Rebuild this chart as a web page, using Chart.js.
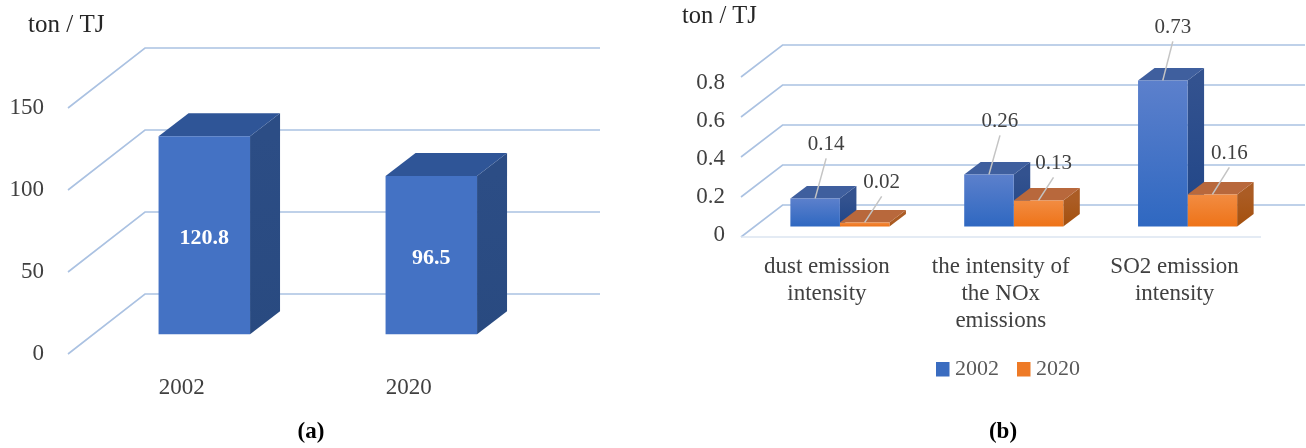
<!DOCTYPE html>
<html>
<head>
<meta charset="utf-8">
<script src="https://cdn.jsdelivr.net/npm/chart.js@4/dist/chart.umd.js"></script>
<style>
  html, body { margin: 0; padding: 0; background: #fff; overflow: hidden; }
  body { width: 1306px; height: 448px; position: relative; }
  .panel { position: absolute; top: 0; height: 448px; }
  canvas { filter: blur(0.4px); }
</style>
</head>
<body>
<div class="panel" style="left:0;width:640px"><canvas id="chartA"></canvas></div>
<div class="panel" style="left:650px;width:656px"><canvas id="chartB"></canvas></div>
<script>
// Data
const yearsA = ['2002', '2020'];
const intensityA = [120.8, 96.5];
const ticksA = [0, 50, 100, 150];

const categoriesB = [
  ['dust emission', 'intensity'],
  ['the intensity of', 'the NOx', 'emissions'],
  ['SO2 emission', 'intensity']
];
const values2002 = [0.14, 0.26, 0.73];
const values2020 = [0.02, 0.13, 0.16];
const ticksB = [0, 0.2, 0.4, 0.6, 0.8];

const SERIF = '"Liberation Serif", serif';
const GRID = '#abc2e2';
Chart.defaults.font.family = SERIF;
Chart.defaults.animation = false;

function polygon(ctx, pts, fill) {
  ctx.fillStyle = fill;
  ctx.beginPath();
  pts.forEach((p, i) => i ? ctx.lineTo(p[0], p[1]) : ctx.moveTo(p[0], p[1]));
  ctx.closePath();
  ctx.fill();
}

// Back wall + side wall lines, one per tick value of the wall axis
function drawWalls(chart, wall, values) {
  const ctx = chart.ctx;
  const y = chart.scales.yWall;
  ctx.save();
  ctx.strokeStyle = GRID;
  ctx.lineWidth = 1.6;
  values.forEach(v => {
    const py = y.getPixelForValue(v);
    ctx.beginPath();
    ctx.moveTo(wall.left, py);
    ctx.lineTo(wall.left + wall.dx, py - wall.dy);
    ctx.lineTo(wall.right, py - wall.dy);
    ctx.stroke();
  });
  if (wall.floorRight) {
    const py = y.getPixelForValue(0);
    ctx.strokeStyle = '#dbe4f1';
    ctx.beginPath();
    ctx.moveTo(wall.left, py);
    ctx.lineTo(wall.floorRight, py);
    ctx.stroke();
  }
  ctx.restore();
}

// Top and side faces of the bars; the front face is the bar Chart.js draws
function drawBarFaces(chart, depth, faces) {
  const ctx = chart.ctx;
  const metas = chart.getSortedVisibleDatasetMetas();
  const count = metas[0].data.length;
  for (let i = 0; i < count; i++) {
    metas.forEach((meta, d) => {
      const bar = meta.data[i];
      const l = bar.x - bar.width / 2, r = bar.x + bar.width / 2;
      const f = faces[d];
      const side = ctx.createLinearGradient(0, bar.y, 0, bar.base);
      side.addColorStop(0, f.sideTop);
      side.addColorStop(1, f.sideBottom);
      polygon(ctx, [[r, bar.y], [r + depth.dx, bar.y - depth.dy], [r + depth.dx, bar.base - depth.dy], [r, bar.base]], side);
      polygon(ctx, [[l, bar.y], [l + depth.dx, bar.y - depth.dy], [r + depth.dx, bar.y - depth.dy], [r, bar.y]], f.top);
    });
  }
}

function text(ctx, str, x, y, font, color, align) {
  ctx.font = font;
  ctx.fillStyle = color;
  ctx.textAlign = align || 'center';
  ctx.textBaseline = 'middle';
  ctx.fillText(str, x, y);
}

// ---- panel (a) ----
const wallA = { left: 68, right: 600, dx: 77, dy: 60 };
const depthA = { dx: 30, dy: 23 };
const facesA = [{ top: '#2f5597', sideTop: '#2c4d85', sideBottom: '#294a80' }];

new Chart(document.getElementById('chartA'), {
  type: 'bar',
  data: {
    labels: yearsA,
    datasets: [{ label: 'ton / TJ', data: intensityA, backgroundColor: '#4472c4', yAxisID: 'yBars',
      categoryPercentage: 0.403, barPercentage: 1 }]
  },
  options: {
    responsive: true,
    maintainAspectRatio: false,
    layout: { padding: { top: 108, bottom: 34, right: 95.2 } },
    plugins: { legend: { display: false }, tooltip: { enabled: false } },
    scales: {
      x: {
        grid: { display: false, drawTicks: false },
        border: { display: false },
        ticks: { color: '#404040', font: { size: 23 }, padding: 20, labelOffset: -22.5, maxRotation: 0 },
        afterFit: s => { s.height = 60; }
      },
      y: {
        min: 0, max: 150,
        grid: { display: false, drawTicks: false },
        border: { display: false },
        ticks: { color: '#404040', font: { size: 23 }, padding: 46.8 },
        afterBuildTicks: s => { s.ticks = ticksA.map(v => ({ value: v })); },
        afterFit: s => { s.width = 90.8; }
      },
      yWall: { display: false, min: 0, max: 150 },
      // bars stand on a floor in front of the wall, so same px/unit with the zero lifted
      yBars: { display: false, min: -12, max: 138 }
    }
  },
  plugins: [{
    id: 'box3dA',
    beforeDatasetsDraw(chart) {
      drawWalls(chart, wallA, ticksA);
      drawBarFaces(chart, depthA, facesA);
    },
    afterDatasetsDraw(chart) {
      const ctx = chart.ctx;
      chart.getDatasetMeta(0).data.forEach((bar, i) => {
        text(ctx, String(intensityA[i]), bar.x, (bar.y + bar.base) / 2 + 3, 'bold 22px ' + SERIF, '#ffffff');
      });
      text(ctx, 'ton / TJ', 28, 25, '25px ' + SERIF, '#262626', 'left');
      text(ctx, '(a)', 311, 432, 'bold 23px ' + SERIF, '#000000');
    }
  }]
});

// ---- panel (b) ----
const wallB = { left: 91, right: 655, dx: 41.6, dy: 32, floorRight: 611 };
const depthB = { dx: 16.5, dy: 12.3 };
const facesB = [
  { top: '#3f5f9e', sideTop: '#33528f', sideBottom: '#1f4587' },
  { top: '#b8683c', sideTop: '#ab5c24', sideBottom: '#a4500d' }
];
// leader line end points relative to the centre of each bar's top edge
const leaderX = [[11, 11, 10], [17, 15, 17]];
const leaderY = [[-40, -39, -39], [-26, -23, -27]];

function frontGradient(topColor, bottomColor) {
  return c => {
    const chart = c.chart;
    if (!chart.chartArea || c.raw === undefined) return topColor;
    const s = chart.scales.yBars;
    const g = chart.ctx.createLinearGradient(0, s.getPixelForValue(c.raw), 0, s.getPixelForValue(0));
    g.addColorStop(0, topColor);
    g.addColorStop(1, bottomColor);
    return g;
  };
}

new Chart(document.getElementById('chartB'), {
  type: 'bar',
  data: {
    labels: categoriesB,
    datasets: [
      { label: '2002', data: values2002, yAxisID: 'yBars', categoryPercentage: 0.57, barPercentage: 1,
        backgroundColor: frontGradient('#5c80cc', '#2f68c1') },
      { label: '2020', data: values2020, yAxisID: 'yBars', categoryPercentage: 0.57, barPercentage: 1,
        backgroundColor: frontGradient('#f28c42', '#ee7318') }
    ]
  },
  options: {
    responsive: true,
    maintainAspectRatio: false,
    layout: { padding: { top: 77, bottom: 91, right: 31.5 } },
    plugins: { legend: { display: false }, tooltip: { enabled: false } },
    scales: {
      x: {
        grid: { display: false, drawTicks: false },
        border: { display: false },
        ticks: { color: '#404040', font: { size: 23, lineHeight: 1.19 }, padding: 16, labelOffset: -13, maxRotation: 0, autoSkip: false },
        afterFit: s => { s.height = 120; }
      },
      // the printed tick labels sit a little tighter than the wall lines
      y: {
        min: -0.0105, max: 0.8316,
        grid: { display: false, drawTicks: false },
        border: { display: false },
        ticks: { color: '#404040', font: { size: 23 }, padding: 28 },
        afterBuildTicks: s => { s.ticks = ticksB.map(v => ({ value: v })); },
        afterFit: s => { s.width = 103; }
      },
      yWall: { display: false, min: 0, max: 0.8 },
      yBars: { display: false, min: -0.053, max: 0.747 }
    }
  },
  plugins: [{
    id: 'box3dB',
    beforeDatasetsDraw(chart) {
      drawWalls(chart, wallB, ticksB);
      drawBarFaces(chart, depthB, facesB);
    },
    afterDatasetsDraw(chart) {
      const ctx = chart.ctx;
      chart.data.datasets.forEach((ds, d) => {
        chart.getDatasetMeta(d).data.forEach((bar, i) => {
          const ex = bar.x + leaderX[d][i], ey = bar.y + leaderY[d][i];
          ctx.strokeStyle = '#c4c4c4';
          ctx.lineWidth = 1.5;
          ctx.beginPath();
          ctx.moveTo(bar.x, bar.y);
          ctx.lineTo(ex, ey);
          ctx.stroke();
          text(ctx, ds.data[i].toFixed(2), ex, ey - 14, '21px ' + SERIF, '#404040');
        });
      });
      text(ctx, 'ton / TJ', 32, 17, '24.5px ' + SERIF, '#262626', 'left');
      text(ctx, '(b)', 353, 432, 'bold 23px ' + SERIF, '#000000');
      // legend
      const swatches = ['#3a6cc0', '#ee7a26'];
      const keyX = [286, 367];
      chart.data.datasets.forEach((ds, d) => {
        ctx.fillStyle = swatches[d];
        ctx.fillRect(keyX[d], 362, 13.5, 14.5);
        text(ctx, ds.label, keyX[d] + 19, 369, '22px ' + SERIF, '#595959', 'left');
      });
    }
  }]
});
</script>
</body>
</html>
